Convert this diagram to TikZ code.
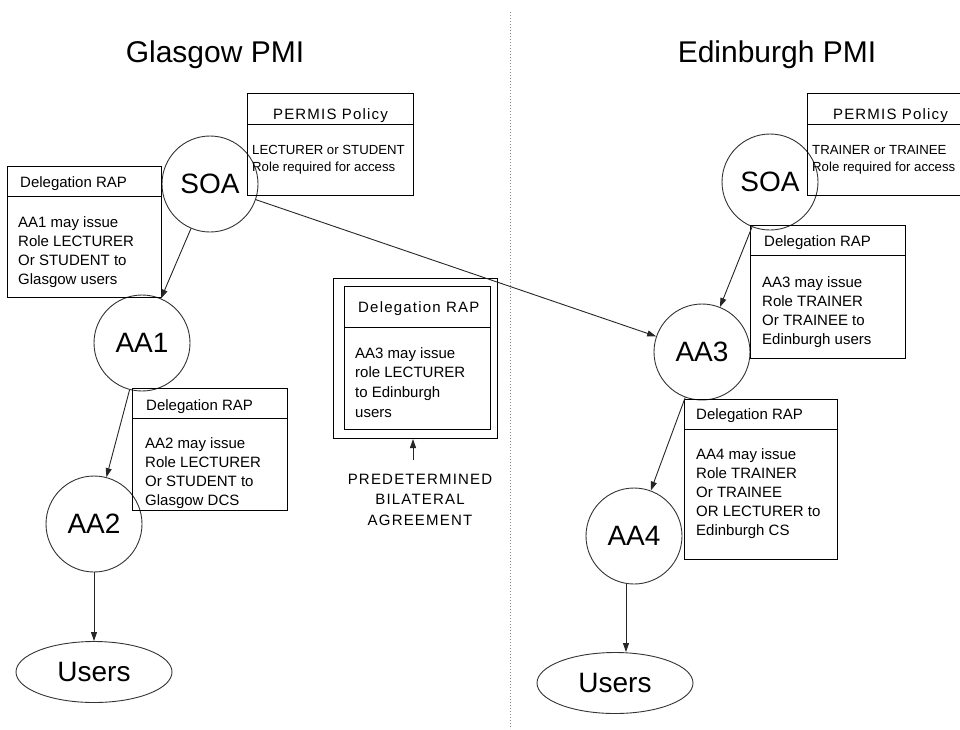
\documentclass[tikz,border=0pt]{standalone}
\usepackage{fontspec}
\setmainfont{Liberation Sans}
\newfontfamily\spacedfont[LetterSpace=8]{Liberation Sans}
\usetikzlibrary{arrows.meta,shapes.geometric}
\begin{document}
\begin{tikzpicture}[x=1pt,y=-1pt,
  every node/.style={inner sep=0pt},
  arr/.style={-{Triangle[length=9pt,width=6pt]}, line width=0.9pt, black!85},
  ent/.style={draw=black!80, circle, minimum size=96pt, line width=0.9pt, font=\fontsize{28}{30}\selectfont},
  usr/.style={draw=black!80, ellipse, minimum width=156pt, minimum height=61pt, line width=0.9pt, font=\fontsize{28}{30}\selectfont},
  rect/.style={draw, rectangle, anchor=north west, line width=1pt},
  hdl/.style={anchor=west, font=\fontsize{15}{18}\selectfont, text height=10.7pt, text depth=0pt},
  hdc/.style={font=\spacedfont\fontsize{15}{18}\selectfont, text height=10.7pt, text depth=0pt},
  ln/.style={anchor=west, font=\fontsize{15}{18}\selectfont, text height=10.7pt, text depth=0pt},
  pl/.style={anchor=west, font=\fontsize{13.2}{16}\selectfont, text height=9.5pt, text depth=0pt},
  ttl/.style={font=\fontsize{30}{34}\selectfont, anchor=base},
  divider/.style={black!45, line width=0.8pt, dash pattern=on 1pt off 2pt},
]
\useasboundingbox (0,0) rectangle (960,729);
\clip (0,0) rectangle (960,729);

% titles
\node[ttl] (t1) at (215,62) {Glasgow PMI};
\node[ttl] (t2) at (777,62) {Edinburgh PMI};

% divider
\coordinate (dtop) at (510,12);
\coordinate (dbot) at (510,729);
\draw[divider] (dtop) -- (dbot);

% ---------------- Glasgow ----------------
\node[ent] (gsoa) at (210,184) {SOA};
\node[ent] (aa1) at (142,343) {AA1};
\node[ent] (aa2) at (94,524) {AA2};
\node[usr] (users1) at (94,672) {Users};

% Glasgow PERMIS policy
\node[rect, minimum width=166pt, minimum height=102pt] (gpol) at (247,93) {};
\draw[line width=1pt] ([yshift=-31pt]gpol.north west) -- ([yshift=-31pt]gpol.north east);
\node[hdc] (gpolh) at ([yshift=-21pt]gpol.north) {PERMIS Policy};
\node[pl] (gpol1) at ([xshift=5pt,yshift=-57pt]gpol.north west) {LECTURER or STUDENT};
\node[pl] (gpol2) at ([xshift=5pt,yshift=-74pt]gpol.north west) {Role required for access};

% Delegation RAP for AA1
\node[rect, minimum width=154pt, minimum height=131pt] (rap1) at (7,166) {};
\draw[line width=1pt] ([yshift=-30pt]rap1.north west) -- ([yshift=-30pt]rap1.north east);
\node[hdl] (rap1h) at ([xshift=13pt,yshift=-16pt]rap1.north west) {Delegation RAP};
\node[ln] (rap1a) at ([xshift=11pt,yshift=-56pt]rap1.north west) {AA1 may issue};
\node[ln] (rap1b) at ([xshift=11pt,yshift=-75pt]rap1.north west) {Role LECTURER};
\node[ln] (rap1c) at ([xshift=11pt,yshift=-94pt]rap1.north west) {Or STUDENT to};
\node[ln] (rap1d) at ([xshift=11pt,yshift=-113pt]rap1.north west) {Glasgow users};

% Delegation RAP for AA2
\node[rect, minimum width=155pt, minimum height=122pt] (rap2) at (132,388) {};
\draw[line width=1pt] ([yshift=-30pt]rap2.north west) -- ([yshift=-30pt]rap2.north east);
\node[hdl] (rap2h) at ([xshift=14pt,yshift=-17pt]rap2.north west) {Delegation RAP};
\node[ln] (rap2a) at ([xshift=13pt,yshift=-55pt]rap2.north west) {AA2 may issue};
\node[ln] (rap2b) at ([xshift=13pt,yshift=-74pt]rap2.north west) {Role LECTURER};
\node[ln] (rap2c) at ([xshift=13pt,yshift=-93pt]rap2.north west) {Or STUDENT to};
\node[ln] (rap2d) at ([xshift=13pt,yshift=-112pt]rap2.north west) {Glasgow DCS};

% ---------------- Middle agreement ----------------
\node[rect, minimum width=164pt, minimum height=160pt] (outer) at (333,278) {};
\node[rect, minimum width=146pt, minimum height=143pt] (inner) at (344,286) {};
\draw[line width=1pt] ([yshift=-41pt]inner.north west) -- ([yshift=-41pt]inner.north east);
\node[hdc, anchor=west] (innerh) at ([xshift=14pt,yshift=-21pt]inner.north west) {Delegation RAP};
\node[ln] (innera) at ([xshift=11pt,yshift=-67pt]inner.north west) {AA3 may issue};
\node[ln] (innerb) at ([xshift=11pt,yshift=-86pt]inner.north west) {role LECTURER};
\node[ln] (innerc) at ([xshift=11pt,yshift=-106pt]inner.north west) {to Edinburgh};
\node[ln] (innerd) at ([xshift=11pt,yshift=-126pt]inner.north west) {users};
\node[anchor=north, align=center, font=\spacedfont\fontsize{15}{20.5}\selectfont] (agree) at (420,473.5) {PREDETERMINED\\BILATERAL\\AGREEMENT};
\coordinate (agtop) at (413,460);
\draw[arr] (agtop) -- (agtop |- outer.south);

% ---------------- Edinburgh ----------------
\node[ent] (esoa) at (770,182) {SOA};
\node[ent] (aa3) at (702,352) {AA3};
\node[ent] (aa4) at (634,536) {AA4};
\node[usr] (users2) at (615,683) {Users};

% Edinburgh PERMIS policy
\node[rect, minimum width=166pt, minimum height=102pt] (epol) at (807,93) {};
\draw[line width=1pt] ([yshift=-31pt]epol.north west) -- ([yshift=-31pt]epol.north east);
\node[hdc] (epolh) at ([yshift=-21pt]epol.north) {PERMIS Policy};
\node[pl] (epol1) at ([xshift=5pt,yshift=-57pt]epol.north west) {TRAINER or TRAINEE};
\node[pl] (epol2) at ([xshift=5pt,yshift=-74pt]epol.north west) {Role required for access};

% Delegation RAP for AA3
\node[rect, minimum width=155pt, minimum height=133pt] (rap3) at (750,225) {};
\draw[line width=1pt] ([yshift=-30pt]rap3.north west) -- ([yshift=-30pt]rap3.north east);
\node[hdl] (rap3h) at ([xshift=14pt,yshift=-16pt]rap3.north west) {Delegation RAP};
\node[ln] (rap3a) at ([xshift=12pt,yshift=-57pt]rap3.north west) {AA3 may issue};
\node[ln] (rap3b) at ([xshift=12pt,yshift=-76pt]rap3.north west) {Role TRAINER};
\node[ln] (rap3c) at ([xshift=12pt,yshift=-95pt]rap3.north west) {Or TRAINEE to};
\node[ln] (rap3d) at ([xshift=12pt,yshift=-114pt]rap3.north west) {Edinburgh users};

% Delegation RAP for AA4
\node[rect, minimum width=153pt, minimum height=160pt] (rap4) at (684,399) {};
\draw[line width=1pt] ([yshift=-30pt]rap4.north west) -- ([yshift=-30pt]rap4.north east);
\node[hdl] (rap4h) at ([xshift=12pt,yshift=-15pt]rap4.north west) {Delegation RAP};
\node[ln] (rap4a) at ([xshift=12pt,yshift=-55pt]rap4.north west) {AA4 may issue};
\node[ln] (rap4b) at ([xshift=12pt,yshift=-74pt]rap4.north west) {Role TRAINER};
\node[ln] (rap4c) at ([xshift=12pt,yshift=-93pt]rap4.north west) {Or TRAINEE};
\node[ln] (rap4d) at ([xshift=12pt,yshift=-112pt]rap4.north west) {OR LECTURER to};
\node[ln] (rap4e) at ([xshift=12pt,yshift=-131pt]rap4.north west) {Edinburgh CS};

% ---------------- connectors ----------------
\draw[arr] (gsoa) -- (aa1);
\draw[arr] (aa1) -- (aa2);
\draw[arr] (aa2) -- (users1);
\draw[arr] (gsoa) -- (aa3);
\draw[arr] (esoa) -- (aa3);
\draw[arr] (aa3) -- (aa4);
\draw[arr] ([xshift=-8pt]aa4.south) -- ([xshift=-8pt]aa4.south |- users2.north);
\end{tikzpicture}
\end{document}
